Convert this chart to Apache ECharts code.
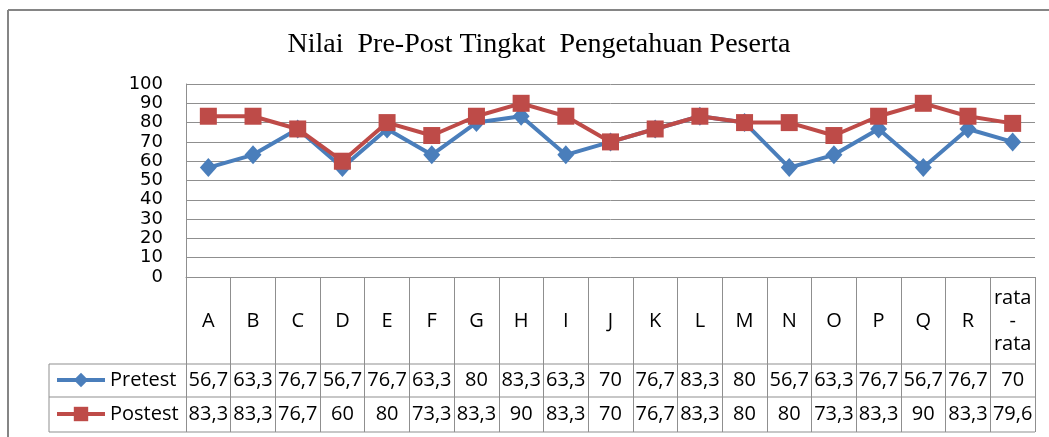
<!DOCTYPE html>
<html>
<head>
<meta charset="utf-8">
<script src="https://cdn.jsdelivr.net/npm/echarts@6/dist/echarts.min.js"></script>
<style>
  html, body { margin: 0; padding: 0; background: #fff; }
  #chart { width: 1049px; height: 437px; }
</style>
</head>
<body>
<div id="chart"></div>
<script>
// data
var categories = ['A', 'B', 'C', 'D', 'E', 'F', 'G', 'H', 'I', 'J', 'K', 'L', 'M', 'N', 'O', 'P', 'Q', 'R', 'rata\n-\nrata'];
var pretest = [56.7, 63.3, 76.7, 56.7, 76.7, 63.3, 80, 83.3, 63.3, 70, 76.7, 83.3, 80, 56.7, 63.3, 76.7, 56.7, 76.7, 70];
var postest = [83.3, 83.3, 76.7, 60, 80, 73.3, 83.3, 90, 83.3, 70, 76.7, 83.3, 80, 80, 73.3, 83.3, 90, 83.3, 79.6];
var yTicks = [0, 100, 10]; // min, max, step

function fmt(v) { return String(v).replace('.', ','); }

var gray = '#8f8f8f';
var tableFont = { fontFamily: 'Open Sans', fontSize: 20, color: '#000' };

var dom = document.getElementById('chart');
var myChart = echarts.init(dom);

// table geometry (below plot)
var gLeft = 186, gRight = 1035, axisY = 277;
var row1 = 364, row2 = 397, row3 = 432, keyLeft = 49;

var option = {
    animation: false,
    title: {
        text: 'Nilai  Pre-Post Tingkat  Pengetahuan Peserta',
        left: 534,
        textAlign: 'center',
        top: 26,
        textStyle: { fontFamily: 'Liberation Serif', fontSize: 28, fontWeight: 'normal', color: '#000' }
    },
    legend: {
        orient: 'vertical',
        left: 50,
        top: 365,
        itemWidth: 48,
        itemHeight: 18,
        itemGap: 14,
        lineStyle: { width: 4 },
        data: ['Pretest', 'Postest'],
        textStyle: { fontFamily: 'Open Sans', fontSize: 20, color: '#000', lineHeight: 20 }
    },
    grid: { left: gLeft, right: 1049 - gRight, top: 84, height: axisY - 84 },
    xAxis: [
        {
            type: 'category',
            data: categories,
            boundaryGap: true,
            axisLine: { lineStyle: { color: gray, width: 1 } },
            axisTick: { show: true, length: row3 - axisY, lineStyle: { color: gray, width: 1 } },
            axisLabel: { interval: 0, margin: 44, verticalAlign: 'middle', lineHeight: 23,
                fontFamily: 'Open Sans', fontSize: 20, color: '#000' }
        },
        {
            type: 'category',
            data: pretest.map(fmt),
            position: 'bottom',
            offset: row1 - axisY,
            axisLine: { show: false },
            axisTick: { show: false },
            axisLabel: Object.assign({ interval: 0, margin: 16, verticalAlign: 'middle' }, tableFont)
        },
        {
            type: 'category',
            data: postest.map(fmt),
            position: 'bottom',
            offset: row2 - axisY,
            axisLine: { show: false },
            axisTick: { show: false },
            axisLabel: Object.assign({ interval: 0, margin: 17, verticalAlign: 'middle' }, tableFont)
        }
    ],
    yAxis: {
        type: 'value',
        min: yTicks[0],
        max: yTicks[1],
        interval: yTicks[2],
        axisLine: { show: true, lineStyle: { color: gray, width: 1 } },
        axisTick: { show: false },
        splitLine: { lineStyle: { color: gray, width: 1 } },
        axisLabel: { margin: 23, fontFamily: 'DejaVu Sans', fontSize: 18, color: '#000' }
    },
    series: [
        {
            name: 'Pretest',
            type: 'line',
            data: pretest,
            symbol: 'diamond',
            symbolSize: [17, 19],
            lineStyle: { color: '#4a7ebb', width: 4 },
            itemStyle: { color: '#4a7ebb' }
        },
        {
            name: 'Postest',
            type: 'line',
            data: postest,
            symbol: 'rect',
            symbolSize: 17,
            lineStyle: { color: '#be4b48', width: 4 },
            itemStyle: { color: '#be4b48' }
        }
    ],
    graphic: [
        // outer frame
        { type: 'line', shape: { x1: 8, y1: 10, x2: 1049, y2: 10 }, style: { stroke: '#858585', lineWidth: 2 } },
        { type: 'line', shape: { x1: 8, y1: 10, x2: 8, y2: 437 }, style: { stroke: '#858585', lineWidth: 2 } },
        // table rows
        { type: 'line', shape: { x1: keyLeft, y1: row1, x2: gRight, y2: row1 }, style: { stroke: gray, lineWidth: 1 } },
        { type: 'line', shape: { x1: keyLeft, y1: row2, x2: gRight, y2: row2 }, style: { stroke: gray, lineWidth: 1 } },
        { type: 'line', shape: { x1: keyLeft, y1: row3, x2: gRight, y2: row3 }, style: { stroke: gray, lineWidth: 1 } },
        { type: 'line', shape: { x1: keyLeft, y1: row1, x2: keyLeft, y2: row3 }, style: { stroke: gray, lineWidth: 1 } }
    ]
};

if (option && typeof option === 'object') {
    myChart.setOption(option, true);
}
</script>
</body>
</html>
